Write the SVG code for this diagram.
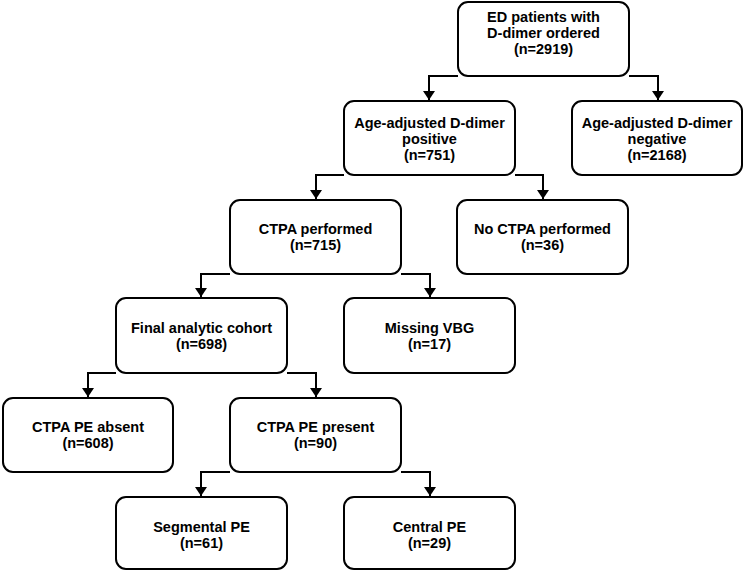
<svg xmlns="http://www.w3.org/2000/svg" width="744" height="572" viewBox="0 0 744 572">
<style>
.box{fill:#fff;stroke:#000;stroke-width:2}
.t{font-family:"Liberation Sans",Arial,sans-serif;font-weight:bold;font-size:14.5px;fill:#000;text-anchor:middle}
.c{fill:none;stroke:#000;stroke-width:2}
</style>
<defs>
<marker id="ah" viewBox="0 0 9 12" refX="9" refY="6" markerWidth="9" markerHeight="12" markerUnits="userSpaceOnUse" orient="auto">
<path d="M0,0 L9,6 L0,12 z" fill="#000"/>
</marker>
</defs>
<rect width="744" height="572" fill="#fff"/>
<g id="connectors">
<path class="c" d="M458,76 H429 V100" marker-end="url(#ah)"/>
<path class="c" d="M629,76 H658 V100" marker-end="url(#ah)"/>
<path class="c" d="M344,175 H316 V199" marker-end="url(#ah)"/>
<path class="c" d="M515,175 H543 V199" marker-end="url(#ah)"/>
<path class="c" d="M230,274 H201 V297" marker-end="url(#ah)"/>
<path class="c" d="M401,274 H430 V297" marker-end="url(#ah)"/>
<path class="c" d="M116,373 H88 V397" marker-end="url(#ah)"/>
<path class="c" d="M287,373 H316 V397" marker-end="url(#ah)"/>
<path class="c" d="M230,472 H201 V496" marker-end="url(#ah)"/>
<path class="c" d="M401,472 H430 V496" marker-end="url(#ah)"/>
</g>
<g id="ed">
<rect class="box" x="458" y="2" width="171" height="74" rx="10"/>
<text class="t" x="543.5" y="22">ED patients with</text>
<text class="t" x="543.5" y="37.5">D-dimer ordered</text>
<text class="t" x="543.5" y="53.5">(n=2919)</text>
</g>
<g id="pos">
<rect class="box" x="344" y="101" width="171" height="74" rx="10"/>
<text class="t" x="429.5" y="128">Age-adjusted D-dimer</text>
<text class="t" x="429.5" y="144">positive</text>
<text class="t" x="429.5" y="160">(n=751)</text>
</g>
<g id="neg">
<rect class="box" x="572" y="101" width="170" height="74" rx="10"/>
<text class="t" x="657" y="128">Age-adjusted D-dimer</text>
<text class="t" x="657" y="144">negative</text>
<text class="t" x="657" y="160">(n=2168)</text>
</g>
<g id="ctpa">
<rect class="box" x="230" y="200" width="171" height="74" rx="10"/>
<text class="t" x="315.5" y="234">CTPA performed</text>
<text class="t" x="315.5" y="250">(n=715)</text>
</g>
<g id="noctpa">
<rect class="box" x="457" y="200" width="171" height="74" rx="10"/>
<text class="t" x="542.5" y="234">No CTPA performed</text>
<text class="t" x="542.5" y="250">(n=36)</text>
</g>
<g id="final">
<rect class="box" x="116" y="298" width="171" height="75" rx="10"/>
<text class="t" x="201.5" y="333">Final analytic cohort</text>
<text class="t" x="201.5" y="349">(n=698)</text>
</g>
<g id="missing">
<rect class="box" x="344" y="298" width="171" height="75" rx="10"/>
<text class="t" x="429.5" y="333">Missing VBG</text>
<text class="t" x="429.5" y="349">(n=17)</text>
</g>
<g id="absent">
<rect class="box" x="3" y="398" width="170" height="74" rx="10"/>
<text class="t" x="88" y="432">CTPA PE absent</text>
<text class="t" x="88" y="448">(n=608)</text>
</g>
<g id="present">
<rect class="box" x="230" y="398" width="171" height="74" rx="10"/>
<text class="t" x="315.5" y="432">CTPA PE present</text>
<text class="t" x="315.5" y="448">(n=90)</text>
</g>
<g id="segmental">
<rect class="box" x="116" y="497" width="171" height="72" rx="10"/>
<text class="t" x="201.5" y="532">Segmental PE</text>
<text class="t" x="201.5" y="548">(n=61)</text>
</g>
<g id="central">
<rect class="box" x="344" y="497" width="171" height="72" rx="10"/>
<text class="t" x="429.5" y="532">Central PE</text>
<text class="t" x="429.5" y="548">(n=29)</text>
</g>
</svg>
